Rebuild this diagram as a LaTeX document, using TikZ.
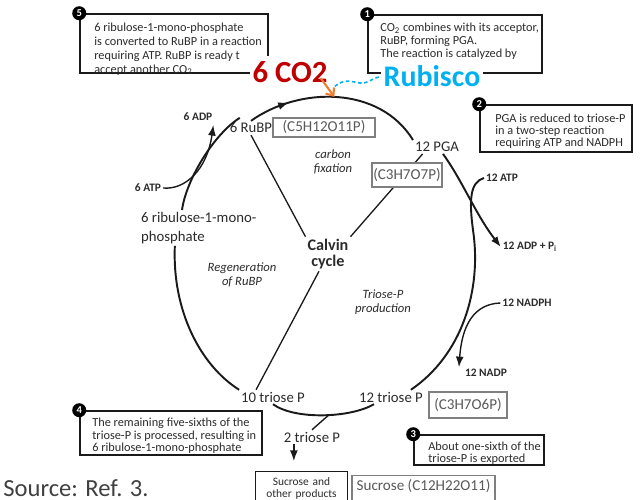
\documentclass[tikz,border=0pt]{standalone}
\usepackage{fontspec}
\setmainfont{Carlito}
\usetikzlibrary{arrows.meta,calc}
\setlength{\lineskiplimit}{-10pt}

\begin{document}
\begin{tikzpicture}[x=0.02cm, y=-0.02cm,
    cycleline/.style={draw=lineColour, line width=1.1pt},
    sideline/.style={draw=lineColour, line width=0.8pt},
    spoke/.style={draw=lineColour, line width=0.75pt},
    tipped/.style={-{Latex[length=6pt,width=4.5pt]}},
    cyclabel/.style={text=textColour, inner sep=1pt, font=\fontsize{8.4}{10.8}\selectfont},
    cofactor/.style={text=textColour, inner sep=1pt, font=\bfseries\fontsize{6.5}{7}\selectfont},
    phase/.style={text=textColour, inner sep=1pt, align=center, font=\itshape\fontsize{7.2}{7.6}\selectfont},
    notebox/.style={draw=lineColour, line width=0.9pt, inner sep=0pt},
    notetext/.style={anchor=north west, inner sep=0pt, align=left, text=textColour, font=\fontsize{7}{7}\selectfont},
    badge/.style={circle, fill=black, text=white, inner sep=0pt, minimum size=0.28cm, font=\bfseries\fontsize{6}{6}\selectfont},
    formula/.style={draw=formulaBorder, line width=0.6pt, fill=white, text=formulaColour, inner sep=0pt, font=\fontsize{8.6}{10}\selectfont},
    pptlabel/.style={fill=white, anchor=base, inner xsep=0.06cm, inner ysep=0.04cm, font=\bfseries\fontsize{17.5}{18}\selectfont},
]
    \definecolor{lineColour}{HTML}{1A1A1A}
    \definecolor{textColour}{HTML}{2B2B2B}
    \definecolor{formulaColour}{HTML}{595959}
    \definecolor{formulaBorder}{HTML}{7F7F7F}
    \definecolor{co2Colour}{HTML}{C00000}
    \definecolor{rubiscoColour}{HTML}{00B0F0}
    \definecolor{arrowColour}{HTML}{ED7D31}
    \definecolor{sourceColour}{HTML}{404040}

    \clip (0,0) rectangle (640,500);

    % Numbered notes
    \node[notebox, minimum width=3.76cm, minimum height=1.18cm] (box5) at (174,43.5) {};
    \node[notetext, font=\fontsize{7}{7.8}\selectfont] (txt5) at (94,23) {6 ribulose-1-mono-phosphate\\is converted to RuBP in a reaction\\requiring ATP. RuBP is ready t\\accept another CO\textsubscript{2}};
    \node[badge] (n5) at (box5.north west) {5};

    \node[notebox, minimum width=3.48cm, minimum height=1.16cm] (box1) at (455,44) {};
    \node[notetext, font=\fontsize{7}{7.4}\selectfont] (txt1) at (380,23) {CO\textsubscript{2} combines with its acceptor,\\RuBP, forming PGA.\\The reaction is catalyzed by};
    \node[badge] (n1) at (box1.north west) {1};

    \node[notebox, minimum width=3.04cm, minimum height=0.94cm] (box2) at (556,128.5) {};
    \node[notetext, font=\fontsize{7}{6.8}\selectfont] (txt2) at (495,114) {PGA is reduced to triose-P\\in a two-step reaction\\requiring ATP and NADPH};
    \node[badge] (n2) at (box2.north west) {2};

    \node[notebox, minimum width=3.64cm, minimum height=0.88cm] (box4) at (171,433) {};
    \node[notetext, font=\fontsize{7}{7.1}\selectfont] (txt4) at (92,418) {The remaining five-sixths of the\\triose-P is processed, resulting in\\6 ribulose-1-mono-phosphate};
    \node[badge] (n4) at (box4.north west) {4};

    \node[notebox, minimum width=2.6cm, minimum height=0.6cm] (box3) at (479,450) {};
    \node[notetext, font=\fontsize{7}{6.8}\selectfont] (txt3) at (428,442) {About one-sixth of the\\triose-P is exported};
    \node[badge] (n3) at (box3.north west) {3};

    % Cycle intermediates
    \node[cyclabel] (rubp) at (251,128) {6 RuBP};
    \node[cyclabel] (pga) at (437,147) {12 PGA};
    \node[cyclabel, anchor=north west, align=left] (ribu) at (139,210) {6 ribulose-1-mono-\\phosphate};
    \node[cyclabel] (tri12) at (391,397) {12 triose P};
    \node[cyclabel] (tri10) at (273,397) {10 triose P};
    \node[cyclabel] (tri2) at (312,437) {2 triose P};
    \node[cyclabel, align=center, font=\bfseries\fontsize{9.2}{9.4}\selectfont] (calvin) at (328,254) {Calvin\\cycle};

    % Cofactors
    \node[cofactor] (adp6) at (198,117) {6 ADP};
    \node[cofactor] (atp6) at (148,188) {6 ATP};
    \node[cofactor] (atp12) at (502,178) {12 ATP};
    \node[cofactor] (adp12) at (530,247) {12 ADP + P\textsubscript{i}};
    \node[cofactor] (nadph) at (527,303) {12 NADPH};
    \node[cofactor] (nadp) at (486,373) {12 NADP};

    % Phases
    \node[phase] (fix) at (333,162) {carbon\\fixation};
    \node[phase] (regen) at (242,275) {Regeneration\\of RuBP};
    \node[phase] (trprod) at (383,302) {Triose-P\\production};

    % Cycle
    \draw[cycleline] (rubp.north) .. controls (300,86) and (380,86) .. (pga.north west)
        coordinate[pos=0.17] (fixa) coordinate[pos=0.23] (fixb) coordinate[pos=0.48] (fixpt);
    \draw[cycleline, tipped] (fixa) -- (fixb);
    \draw[cycleline, tipped] ($(pga.south)+(6,0)$) .. controls (462,180) and (476,215) .. (adp12.west);
    \draw[cycleline] (atp12.west) .. controls (470,182) and (469,200) .. (473,230) .. controls (482,290) and (462,355) .. ($(tri12.north east)+(-14,0)$);
    \draw[cycleline] ($(tri12.south west)!0.25!(tri12.south east)$) .. controls (350,418) and (295,420) .. (tri10.south) coordinate[pos=0.45] (split);
    \draw[cycleline] ($(ribu.south west)!0.3!(ribu.south east)$) .. controls (172,310) and (200,365) .. (tri10.north west);
    \draw[cycleline] ($(ribu.north west)!0.36!(ribu.north east)$) .. controls (186,180) and (214,134) .. ($(rubp.north west)+(12,-3)$);

    % Side reactions
    \draw[sideline, tipped] (atp6.east) .. controls (185,190) and (207,170) .. ($(adp6.south east)+(-1,2)$);
    \draw[sideline, tipped] (nadph.west) .. controls (474,304) and (462,325) .. ($(nadp.north west)+(-4,0)$);
    \draw[sideline] (split) -- (tri2.north);

    % Spokes
    \draw[spoke] (rubp.south) -- (calvin.north west);
    \draw[spoke] ($(pga.south west)!0.2!(pga.south east)$) -- (calvin.north east);
    \draw[spoke] ($(calvin.south west)!0.3!(calvin.south east)$) -- ($(tri10.north west)!0.25!(tri10.north east)$);

    % Formula boxes
    \node[formula, minimum width=2.04cm, minimum height=0.38cm] (c5) at (324,127.5) {(C5H12O11P)};
    \node[formula, minimum width=1.4cm, minimum height=0.48cm] (c3a) at (407,175) {(C3H7O7P)};
    \node[formula, minimum width=1.56cm, minimum height=0.52cm] (c3b) at (468,405) {(C3H7O6P)};
    \node[formula, anchor=north, minimum width=2.86cm, inner ysep=0.06cm, text height=0.24cm, text depth=0.5cm] (sucf) at (423.5,475) {Sucrose (C12H22O11)};

    % Products
    \node[draw=lineColour, line width=0.8pt, anchor=north, text=textColour, minimum width=1.74cm, text width=1.6cm, align=center, inner ysep=0.12cm, text depth=0.5cm, font=\fontsize{6.5}{6.9}\selectfont] (prodbox) at (301.5,471) {Sucrose and\\other products};
    \coordinate (drop) at ($(tri2.south west)!0.2!(tri2.south east)$);
    \draw[sideline, tipped, shorten >=0.2cm] (drop) -- (drop |- prodbox.north);

    % Slide additions
    \node[pptlabel, text=co2Colour, text height=0.5cm, text depth=0.1cm] (co2) at (290,83) {6 CO2};
    \node[pptlabel, text=rubiscoColour, font=\bfseries\fontsize{17}{18}\selectfont] (rubisco) at (432,87) {Rubisco};
    \draw[arrowColour, line width=1.2pt, -{Straight Barb[length=3.5pt,width=6pt]}] ($(co2.south east)+(-10,-12)$) -- (fixpt);
    \draw[rubiscoColour, line width=0.9pt, dashed, dash pattern=on 2pt off 1.5pt] ($(co2.south east)+(4,-4)$) .. controls (345,78) and (352,82) .. (360,83) .. controls (368,84) and (372,78) .. (rubisco.west);

    \node[anchor=west, inner sep=0pt, text=sourceColour, font=\fontsize{14}{16}\selectfont] (source) at (3,488) {Source: Ref. 3.};
\end{tikzpicture}
\end{document}
